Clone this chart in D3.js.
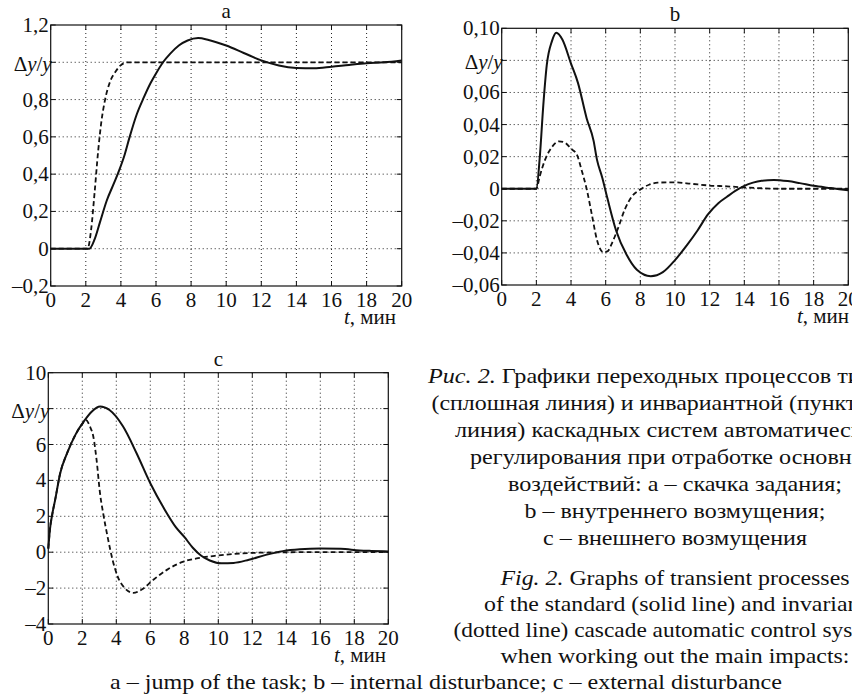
<!DOCTYPE html>
<html><head><meta charset="utf-8">
<script src="https://cdn.jsdelivr.net/npm/d3@7"></script>
</head>
<body style="margin:0;font-family:'Liberation Serif',serif">
<div id="wrap" style="width:852px;height:700px;overflow:hidden"><svg id="c" width="852" height="700" style="display:block"></svg></div>
<script>
// ---------- data ----------
const xTicks = [0,2,4,6,8,10,12,14,16,18,20];
const xTickLabels = ["0","2","4","6","8","10","12","14","16","18","20"];

const yTicksA = [-0.2,0,0.2,0.4,0.6,0.8,1.0,1.2];
const yTickLabelsA = ["–0,2","0","0,2","0,4","0,6","0,8","","1,2"];
const yTicksB = [-0.06,-0.04,-0.02,0,0.02,0.04,0.06,0.08,0.10];
const yTickLabelsB = ["–0,06","–0,04","–0,02","0","0,02","0,04","0,06","","0,10"];
const yTicksC = [-4,-2,0,2,4,6,8,10];
const yTickLabelsC = ["–4","–2","0","2","4","6","","10"];

// panel a
const tASolid = [0,2.2,2.5,2.8,3.2,3.6,3.9,4.2,4.5,4.9,5.3,5.7,6.0,6.4,6.8,7.3,7.8,8.4,9.0,10,11,12,13,14,15,16,17,18,19,20];
const vASolid = [0,0,0.05,0.14,0.26,0.35,0.42,0.5,0.6,0.72,0.81,0.89,0.94,1.0,1.045,1.09,1.117,1.13,1.12,1.09,1.05,1.01,0.983,0.97,0.968,0.976,0.986,0.995,1.0,1.01];
const tADashed = [0,2.1,2.3,2.5,2.7,2.9,3.1,3.4,3.7,4.0,4.4,5,10,15,20];
const vADashed = [0,0,0.1,0.3,0.52,0.69,0.8,0.9,0.95,0.985,1.0,1.0,1.0,1.0,1.0];

// panel b
const tBSolid = [0,2.0,2.2,2.4,2.6,2.9,3.15,3.5,4.0,4.4,4.9,5.3,5.5,5.8,6.1,6.6,7.2,7.8,8.6,9.3,10,10.7,11.3,11.9,12.5,13.0,13.5,14,14.5,15,15.7,16.5,17.2,18,19,20];
const vBSolid = [0,0,0.02,0.052,0.077,0.092,0.0972,0.093,0.078,0.066,0.044,0.03,0.018,0.007,-0.006,-0.026,-0.041,-0.0505,-0.0545,-0.052,-0.0445,-0.035,-0.026,-0.016,-0.009,-0.005,-0.0012,0.0018,0.0038,0.005,0.0055,0.0048,0.0035,0.0018,0.0004,-0.001];
const tBDashed = [0,2.0,2.2,2.5,2.9,3.3,3.6,4.0,4.35,4.6,4.9,5.2,5.5,5.85,6.1,6.4,6.7,7.1,7.5,8.0,8.5,9.0,10,11,12,13,14,15,16,20];
const vBDashed = [0,0,0.008,0.018,0.026,0.0295,0.029,0.025,0.021,0.012,0.0,-0.016,-0.032,-0.0395,-0.039,-0.033,-0.025,-0.013,-0.005,-0.0005,0.0025,0.0038,0.004,0.003,0.002,0.0015,0.0008,0.0003,0,0];

// panel c
const tCSolid = [0,0.1,0.25,0.4,0.7,1.1,1.6,2.1,2.55,3.05,3.6,4.4,5.2,6.0,6.8,7.5,8.0,8.5,9.0,9.5,10.2,10.9,11.8,12.8,13.8,14.8,16,17.2,18.3,19,20];
const vCSolid = [0.2,1.3,2.2,2.9,4.4,5.5,6.55,7.3,7.83,8.12,7.92,7.0,5.5,3.84,2.45,1.4,0.85,0.25,-0.2,-0.46,-0.62,-0.6,-0.42,-0.15,0.06,0.16,0.2,0.19,0.1,0.07,0.04];
const tCDashed = [0,0.1,0.25,0.4,0.7,1.1,1.6,2.0,2.22,2.45,2.65,2.84,3.04,3.24,3.5,3.8,4.1,4.5,5.0,5.5,6.2,7.0,7.9,8.9,9.9,11.3,12.8,14.8,20];
const vCDashed = [0.2,1.3,2.2,2.9,4.4,5.5,6.55,7.15,7.36,7.0,6.43,5.14,3.3,2.1,0.8,-0.5,-1.4,-2.0,-2.27,-2.08,-1.52,-0.97,-0.54,-0.32,-0.19,-0.07,-0.02,0,0];

const captionRu = ["Рис. 2.|Графики переходных процессов типовой",
  "(сплошная линия) и инвариантной (пунктирной",
  "линия) каскадных систем автоматического",
  "регулирования при отработке основных",
  "воздействий: а – скачка задания;",
  "b – внутреннего возмущения;",
  "c – внешнего возмущения"];
const captionEn = ["Fig. 2.|Graphs of transient processes",
  "of the standard (solid line) and invariant",
  "(dotted line) cascade automatic control systems",
  "when working out the main impacts:"];
const captionBottom = "a – jump of the task; b – internal disturbance; c – external disturbance";

// ---------- drawing ----------
const svg = d3.select("#c");
const FS = 21;
const FF = "'Liberation Serif', 'Times New Roman', serif";
function T(sel){ return sel.attr("font-family",FF).attr("font-size",FS).attr("fill","#111"); }

function panel(o){
  const x = d3.scaleLinear().domain([0,20]).range([o.x0,o.x1]);
  const y = d3.scaleLinear().domain(o.yDomain).range([o.y1,o.y0]);
  // grid
  svg.append("g").selectAll("line").data(xTicks.slice(1,-1)).join("line")
    .attr("x1",d=>x(d)).attr("x2",d=>x(d)).attr("y1",o.y0).attr("y2",o.y1)
    .attr("stroke","#222").attr("stroke-width",1).attr("stroke-dasharray","1,3");
  svg.append("g").selectAll("line").data(o.yTicks.slice(1,-1)).join("line")
    .attr("y1",d=>y(d)).attr("y2",d=>y(d)).attr("x1",o.x0).attr("x2",o.x1)
    .attr("stroke","#222").attr("stroke-width",1).attr("stroke-dasharray","1,3");
  // inner ticks
  const tl = 5;
  xTicks.forEach(d=>{
    svg.append("line").attr("x1",x(d)).attr("x2",x(d)).attr("y1",o.y1).attr("y2",o.y1-tl).attr("stroke","#111");
    svg.append("line").attr("x1",x(d)).attr("x2",x(d)).attr("y1",o.y0).attr("y2",o.y0+tl).attr("stroke","#111");
  });
  o.yTicks.forEach(d=>{
    svg.append("line").attr("y1",y(d)).attr("y2",y(d)).attr("x1",o.x0).attr("x2",o.x0+tl).attr("stroke","#111");
    svg.append("line").attr("y1",y(d)).attr("y2",y(d)).attr("x1",o.x1).attr("x2",o.x1-tl).attr("stroke","#111");
  });
  // frame
  svg.append("rect").attr("x",o.x0).attr("y",o.y0).attr("width",o.x1-o.x0).attr("height",o.y1-o.y0)
    .attr("fill","none").attr("stroke","#111").attr("stroke-width",1.2);
  // tick labels
  xTicks.forEach((d,i)=>{
    T(svg.append("text").attr("x",x(d)).attr("y",o.y1+21).attr("text-anchor","middle")).text(xTickLabels[i]);
  });
  o.yTicks.forEach((d,i)=>{
    if(o.yLabels[i]!=="") T(svg.append("text").attr("x",o.x0-2).attr("y",y(d)+7).attr("text-anchor","end")).text(o.yLabels[i]);
  });
  // y label
  const yl = T(svg.append("text").attr("x",o.x0+1).attr("y",y(o.yLabelAt)+9).attr("text-anchor","end"));
  yl.append("tspan").text("Δ");
  yl.append("tspan").attr("font-style","italic").text("y");
  yl.append("tspan").text("/");
  yl.append("tspan").attr("font-style","italic").text("y");
  // x label
  const xl = T(svg.append("text").attr("x",o.xLabelX).attr("y",o.y1+38).attr("text-anchor","end"));
  xl.append("tspan").attr("font-style","italic").text("t");
  xl.append("tspan").text(", мин");
  // title
  T(svg.append("text").attr("x",(o.x0+o.x1)/2).attr("y",o.y0-7).attr("text-anchor","middle")).text(o.title);
  // curves
  const line = d3.line().x(d=>x(d[0])).y(d=>y(d[1])).curve(d3.curveMonotoneX);
  svg.append("path").datum(d3.zip(o.tS,o.vS)).attr("d",line)
    .attr("fill","none").attr("stroke","#111").attr("stroke-width",2);
  svg.append("path").datum(d3.zip(o.tD,o.vD)).attr("d",line)
    .attr("fill","none").attr("stroke","#111").attr("stroke-width",1.8).attr("stroke-dasharray","5,3");
}

panel({x0:50.7,x1:401.7,y0:25,y1:286,yDomain:[-0.2,1.2],yTicks:yTicksA,yLabels:yTickLabelsA,
  yLabelAt:1.0,title:"a",xLabelX:396,tS:tASolid,vS:vASolid,tD:tADashed,vD:vADashed});
panel({x0:501.7,x1:848.3,y0:28.3,y1:285,yDomain:[-0.06,0.10],yTicks:yTicksB,yLabels:yTickLabelsB,
  yLabelAt:0.08,title:"b",xLabelX:849,tS:tBSolid,vS:vBSolid,tD:tBDashed,vD:vBDashed});
panel({x0:48.3,x1:388.3,y0:372.7,y1:624,yDomain:[-4,10],yTicks:yTicksC,yLabels:yTickLabelsC,
  yLabelAt:8,title:"c",xLabelX:386,tS:tCSolid,vS:vCSolid,tD:tCDashed,vD:vCDashed});

// captions (line widths matched to the reference layout)
function capLine(str,cx,yy,len){
  const t = T(svg.append("text").attr("x",cx).attr("y",yy).attr("text-anchor","middle"))
    .attr("textLength",len).attr("lengthAdjust","spacingAndGlyphs");
  if(str.includes("|")){
    const [a,b] = str.split("|");
    t.append("tspan").attr("font-style","italic").text(a+" ");
    t.append("tspan").text(b);
  } else t.text(str);
}
const ruY = [383,410,437,464,491,518,545];
const ruW = [494,487,440,410,334,301,264];
captionRu.forEach((s,i)=>capLine(s,675,ruY[i],ruW[i]));
const enY = [585,611,637,663];
const enW = [349,382,443,349];
captionEn.forEach((s,i)=>capLine(s,675,enY[i],enW[i]));
capLine(captionBottom,446,689,672);
</script>
</body></html>
